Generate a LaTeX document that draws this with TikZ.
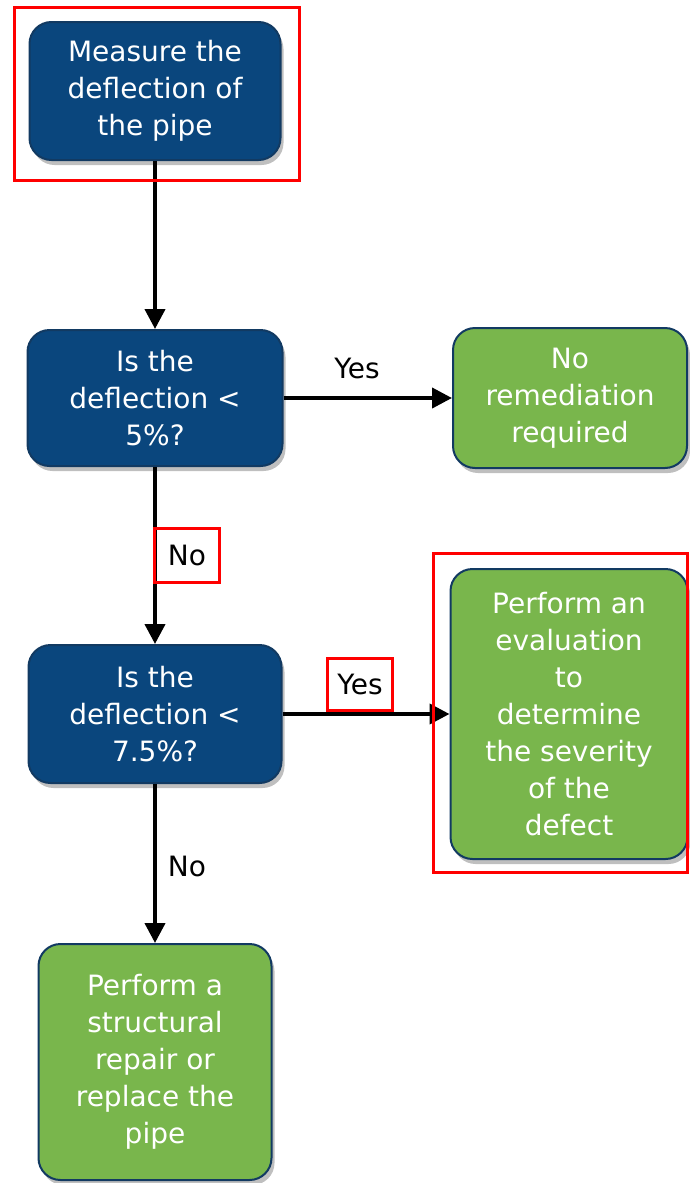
\documentclass[tikz,border=0pt]{standalone}
\usepackage{fontspec}
\setmainfont{DejaVu Sans}
\usepackage{tikz}
\usetikzlibrary{arrows.meta,shadows}
\definecolor{FlowBlue}{RGB}{10,70,125}
\definecolor{FlowGreen}{RGB}{121,182,76}
\definecolor{FlowEdge}{RGB}{18,58,98}

\begin{document}
\begin{tikzpicture}[x=1pt,y=-1pt,
  box/.style n args={3}{fill=#1,draw=FlowEdge,line width=2pt,rounded corners=22pt,minimum width=#2pt,minimum height=#3pt,text=white,align=center,font=\fontsize{28}{37}\selectfont,drop shadow={opacity=0.5,shadow xshift=3pt,shadow yshift=-5pt}},
  arr/.style={line width=4pt,-{Triangle[length=20pt,width=20pt]}},
  lbl/.style={font=\fontsize{28}{30}\selectfont,inner sep=2pt},
  hl/.style={draw=red,line width=3pt}]
\useasboundingbox (0,0) rectangle (689,1183);
   \node[box={FlowBlue}{251}{138}](measure) at(155,91) {Measure the\\deflection of\\the pipe};
   \node[box={FlowBlue}{255}{136}](check5) at(155,398) {Is the\\deflection <\\5\%?};
   \node[box={FlowGreen}{234}{140}](none) at(570,398) {No\\remediation\\required};
   \node[box={FlowBlue}{253}{138}](check75) at(155,714) {Is the\\deflection <\\7.5\%?};
   \node[box={FlowGreen}{237}{290}](eval) at(569,714) {Perform an\\evaluation\\to\\determine\\the severity\\of the\\defect};
   \node[box={FlowGreen}{233}{236}](repair) at(155,1062) {Perform a\\structural\\repair or\\replace the\\pipe};
\draw[arr] (measure) -- (check5);
\draw[arr] (check5) -- (check75);
\draw[arr] (check75) -- (repair);
\draw[arr] (check5) -- (none);
\draw[arr] (check75) -- (eval);
   \node[lbl](yes5) at(357,368) {Yes};
   \node[lbl,hl,minimum width=65pt,minimum height=54pt](no5) at(187,555) {No};
   \node[lbl,hl,minimum width=65pt,minimum height=52pt](yes75) at(360,684) {Yes};
   \node[lbl](no75) at(187,866) {No};
\draw[hl] (14,7) rectangle (299,180);
\draw[hl] (433,553) rectangle (687,872);
\end{tikzpicture}
\end{document}
